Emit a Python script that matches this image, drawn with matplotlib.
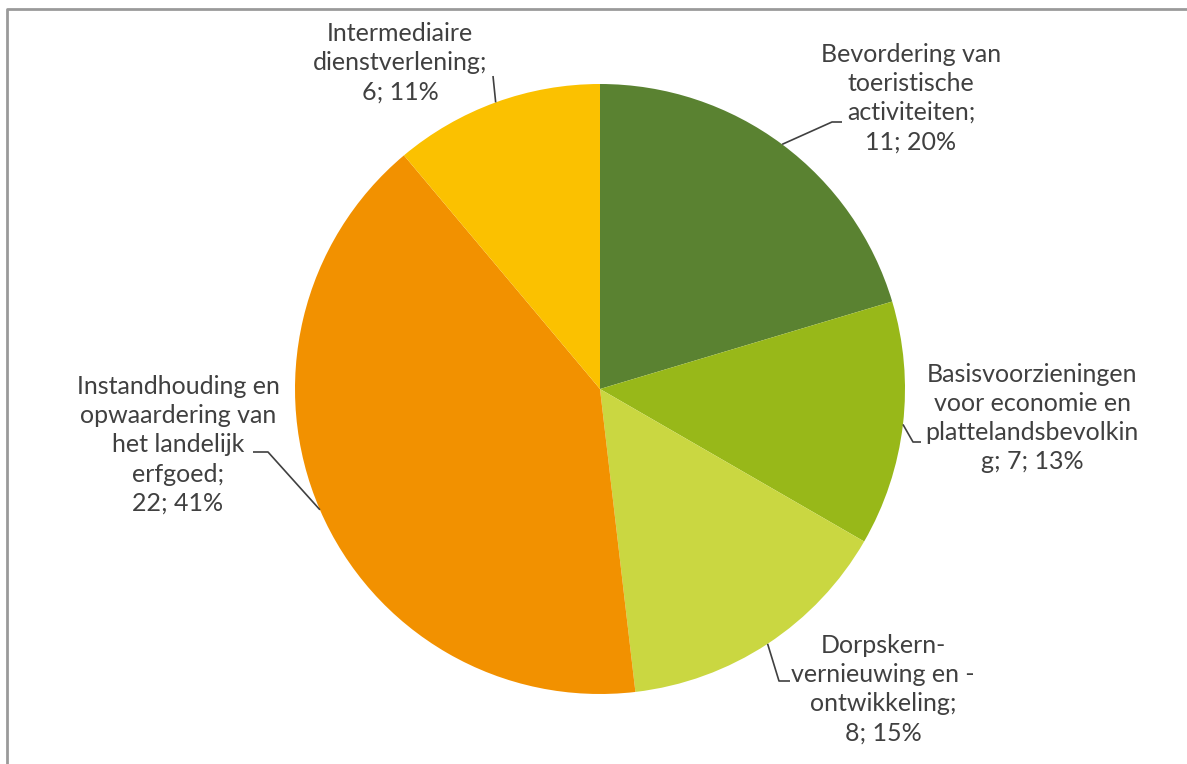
import numpy as np
import matplotlib
matplotlib.use("Agg")
import matplotlib.pyplot as plt
from matplotlib.lines import Line2D

plt.rcParams['font.family'] = ['Lato', 'DejaVu Sans']

labels = ["Bevordering van\ntoeristische\nactiviteiten;\n11; 20%",
          "Basisvoorzieningen\nvoor economie en\nplattelandsbevolkin\ng; 7; 13%",
          "Dorpskern-\nvernieuwing en -\nontwikkeling;\n8; 15%",
          "Instandhouding en\nopwaardering van\nhet landelijk\nerfgoed;\n22; 41%",
          "Intermediaire\ndienstverlening;\n6; 11%"]
values = [11, 7, 8, 22, 6]
colors = ["#5A8231", "#98B819", "#CAD741", "#F29100", "#FBC100"]

W, H = 1187, 764
cx, cy, R = 600, 389, 305

# label centres and leader elbows in pixels (from top-left)
text_pos = [(911, 98), (1032, 418), (883, 689), (178, 445), (400, 63)]
elbows = [[(832, 122), (842, 122)],
          [(913, 442), (921, 442)],
          [(779, 681), (790, 681)],
          [(268, 452), (253, 452)],
          [(493, 76)]]

fig = plt.figure(figsize=(W / 100, H / 100), dpi=100)
ax = fig.add_axes([0, 0, 1, 1])

ax.pie(values, colors=colors, startangle=90, counterclock=False,
       center=(cx, H - cy), radius=R, frame=True,
       wedgeprops=dict(linewidth=0))
ax.set_xlim(0, W)
ax.set_ylim(0, H)
ax.set_aspect('equal')
ax.axis('off')

total = float(sum(values))
start = 90.0
for i, v in enumerate(values):
    span = v / total * 360.0
    mid = np.deg2rad(start - span / 2)
    start -= span
    ax_x = cx + R * np.cos(mid)
    ax_y = cy - R * np.sin(mid)
    pts = [(ax_x, ax_y)] + elbows[i]
    xs = [p[0] for p in pts]
    ys = [H - p[1] for p in pts]
    ax.plot(xs, ys, color="#404040", lw=1.2, solid_capstyle='butt')
    tx, ty = text_pos[i]
    ax.text(tx, H - ty, labels[i], ha='center', va='center', fontsize=18,
            color="#404040", linespacing=1.32)

# chart-area border (only top and left edges fall inside the image)
bx, by = 6.5 / W, (H - 8.5) / H
fig.lines.append(Line2D([bx, bx, 1.0], [0.0, by, by], transform=fig.transFigure,
                        color="#9A9A9A", lw=2))

fig.savefig("out.png", dpi=100)
